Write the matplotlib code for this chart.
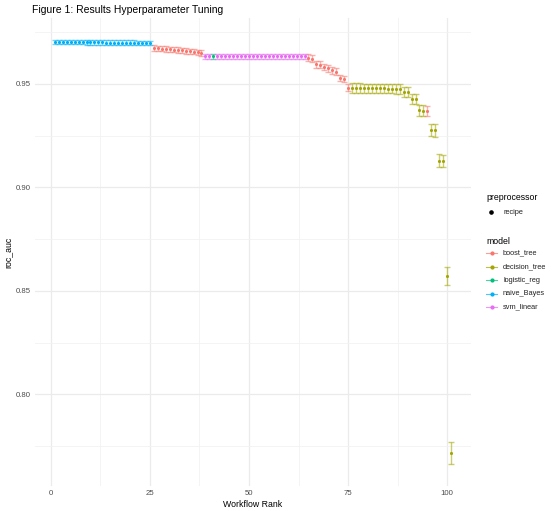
import matplotlib
matplotlib.use("Agg")
import matplotlib.pyplot as plt
from matplotlib.lines import Line2D
import numpy as np

plt.rcParams['font.family'] = ['Liberation Sans', 'DejaVu Sans']

# ---- data ----
model_names = ["boost_tree", "decision_tree", "logistic_reg", "naive_Bayes", "svm_linear"]
model_colors = ["#F8766D", "#A3A500", "#00BF7D", "#00B0F6", "#E76BF3"]

workflow_model = (["naive_Bayes"] * 25 + ["boost_tree"] * 13 + ["svm_linear"] * 2 +
                  ["logistic_reg"] + ["svm_linear"] * 23 + ["boost_tree"] * 11 +
                  ["decision_tree"] * 19 + ["boost_tree"] + ["decision_tree"] * 6)

roc_auc_mean = [
    # naive_Bayes 1-25
    0.9703, 0.9703, 0.9703, 0.9702, 0.9702, 0.9702, 0.9702, 0.9702, 0.9701, 0.9701,
    0.9701, 0.9701, 0.9701, 0.9700, 0.9700, 0.9700, 0.9700, 0.9700, 0.9699, 0.9699,
    0.9699, 0.9698, 0.9698, 0.9698, 0.9697,
    # boost_tree 26-38
    0.9674, 0.9672, 0.9670, 0.9668, 0.9667, 0.9665, 0.9664, 0.9662, 0.9660, 0.9658,
    0.9656, 0.9652, 0.9649,
    # svm 39-40, logistic 41, svm 42-64
    0.9634, 0.9634, 0.9634,
    0.9634, 0.9634, 0.9634, 0.9634, 0.9634, 0.9634, 0.9634, 0.9634, 0.9634, 0.9634,
    0.9634, 0.9634, 0.9634, 0.9634, 0.9634, 0.9634, 0.9634, 0.9634, 0.9634, 0.9634,
    0.9634, 0.9634, 0.9633,
    # boost_tree 65-75
    0.9627, 0.9622, 0.9595, 0.9593, 0.9582, 0.9576, 0.9566, 0.9560, 0.9528, 0.9524,
    0.9482,
    # decision_tree 76-94
    0.9481, 0.9480, 0.9480, 0.9479, 0.9479, 0.9479, 0.9478, 0.9478, 0.9478, 0.9477,
    0.9477, 0.9476, 0.9475, 0.9462, 0.9460, 0.9428, 0.9426, 0.9372, 0.9371,
    # boost_tree 95
    0.9370,
    # decision_tree 96-101
    0.9277, 0.9276, 0.9130, 0.9129, 0.8571, 0.7715,
]

roc_auc_std_err = (
    [0.0011] * 25 + [0.0013] * 13 + [0.0012] * 26 + [0.0016] * 11 +
    [0.0023] * 13 + [0.0025] * 6 + [0.0024] +
    [0.0030, 0.0030, 0.0030, 0.0030, 0.0043, 0.0053]
)

workflow_rank = list(range(1, len(roc_auc_mean) + 1))

# ---- figure ----
W, H = 554, 511
fig = plt.figure(figsize=(W / 100, H / 100), dpi=100)
left_px, right_px, top_px, bot_px = 35, 471, 18.4, 485.6
ax = fig.add_axes([left_px / W, 1 - bot_px / H, (right_px - left_px) / W, (bot_px - top_px) / H])

rank_arr = np.array(workflow_rank)
mean_arr = np.array(roc_auc_mean)
se_arr = np.array(roc_auc_std_err)
model_arr = np.array(workflow_model)

for name, col in zip(model_names, model_colors):
    m = model_arr == name
    ax.errorbar(rank_arr[m], mean_arr[m], yerr=se_arr[m], fmt='none',
                ecolor=col, alpha=0.55, elinewidth=1.0, capsize=2.2, capthick=1.0, zorder=2)
    ax.scatter(rank_arr[m], mean_arr[m], s=5, color=col, zorder=3, linewidths=0)

# limits with ggplot-like 5% expansion
lo = (mean_arr - se_arr).min()
hi = (mean_arr + se_arr).max()
yr = hi - lo
ax.set_ylim(lo - 0.05 * yr, hi + 0.05 * yr)
xr = rank_arr.max() - rank_arr.min()
ax.set_xlim(rank_arr.min() - 0.05 * xr, rank_arr.max() + 0.05 * xr)

ax.set_xticks([0, 25, 50, 75, 100])
ax.set_xticks([12.5, 37.5, 62.5, 87.5], minor=True)
ax.set_yticks([0.80, 0.85, 0.90, 0.95])
ax.set_yticklabels(["0.80", "0.85", "0.90", "0.95"])
ax.set_yticks([0.775, 0.825, 0.875, 0.925, 0.975], minor=True)

ax.grid(True, which='major', color='#EBEBEB', linewidth=0.9)
ax.grid(True, which='minor', color='#F2F2F2', linewidth=0.6)
ax.set_axisbelow(True)
for s in ax.spines.values():
    s.set_visible(False)
ax.tick_params(which='both', length=0, labelsize=5.6, labelcolor='#4D4D4D', pad=3)

ax.set_xlabel("Workflow Rank", fontsize=6.3, color='black', labelpad=2)
ax.set_ylabel("roc_auc", fontsize=6.3, color='black', labelpad=2.5)

fig.text(32 / W, 1 - 10 / H, "Figure 1: Results Hyperparameter Tuning",
         fontsize=7.5, ha='left', va='center', color='black')

# ---- legends (drawn in figure pixel coords) ----
def fy(px):
    return 1 - px / H

fig.text(486 / W, fy(197), "preprocessor", fontsize=6.3, ha='left', va='center')
fig.add_artist(Line2D([491 / W], [fy(212)], marker='o', markersize=2.3, color='black',
                      linestyle='none', transform=fig.transFigure))
fig.text(503 / W, fy(212), "recipe", fontsize=5.3, ha='left', va='center', color='#222222')

fig.text(486 / W, fy(241), "model", fontsize=6.3, ha='left', va='center')
for i, (name, col) in enumerate(zip(model_names, model_colors)):
    yy = fy(253 + i * 13.5)
    fig.add_artist(Line2D([486 / W, 497 / W], [yy, yy], color=col, linewidth=0.8, alpha=0.7,
                          transform=fig.transFigure))
    fig.add_artist(Line2D([491.5 / W], [yy], marker='o', markersize=2.0, color=col,
                          linestyle='none', transform=fig.transFigure))
    fig.text(503 / W, yy, name, fontsize=5.3, ha='left', va='center', color='#222222')

fig.savefig("out.png", dpi=100, facecolor='white')
